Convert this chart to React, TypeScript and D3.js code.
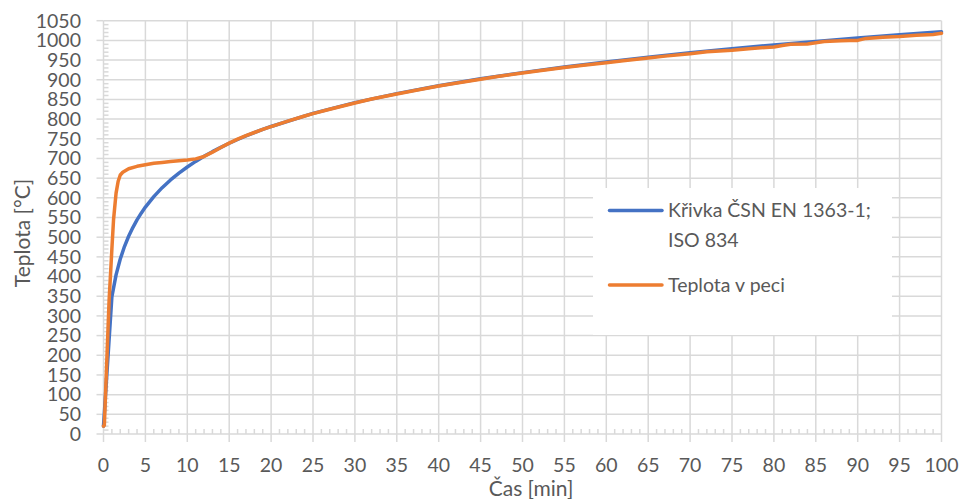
import React from "react";
import * as d3 from "d3";

const isoTime = [0, 1, 1.5, 2, 2.5, 3, 3.5, 4, 4.5, 5, 6, 7, 8, 9, 10, 11, 12, 13, 14, 15, 16, 17, 18, 19, 20, 25, 30, 35, 40, 45, 50, 55, 60, 65, 70, 75, 80, 85, 90, 95, 100];
const isoTemp = [20, 349.2, 404.3, 444.5, 476.2, 502.3, 524.5, 543.9, 561.0, 576.4, 603.1, 625.8, 645.4, 662.8, 678.4, 692.6, 705.4, 717.3, 728.3, 738.6, 748.2, 757.3, 765.7, 773.8, 781.3, 814.6, 841.8, 864.8, 884.7, 902.3, 918.1, 932.3, 945.3, 957.3, 968.4, 978.7, 988.4, 997.4, 1006.0, 1014.1, 1021.7];

const furnaceTime = [0, 0.1, 0.67, 1, 1.2, 1.5, 1.75, 2, 2.3, 3, 4, 5, 6, 7, 8, 9, 10, 11, 12, 13, 14, 15, 16, 17, 18, 19, 20, 22, 24, 25, 27, 30, 32, 35, 37, 40, 42, 45, 47, 50, 52, 55, 57, 60, 62, 65, 67, 70, 72, 75, 77, 79, 80, 81, 82, 84, 85, 86, 88, 89, 90, 91, 93, 95, 97, 99, 100];
const furnaceTemp = [20, 22, 340, 470, 545, 612, 642, 658, 665, 674, 680, 684, 688, 690, 692, 694, 696, 699, 705, 716, 728, 739, 749, 758, 766, 774, 781, 795, 808, 814, 825, 841, 851, 864, 872, 884, 891, 901, 908, 917, 923, 931, 936, 943, 948, 955, 960, 966, 971, 975, 979, 982, 983, 987, 990, 991, 994, 997, 999, 1000, 1000, 1005, 1008, 1010, 1013, 1015, 1018];

const seriesNames = ["Křivka ČSN EN 1363-1;", "ISO 834", "Teplota v peci"];
const xTicks = d3.range(0, 101, 5);
const yTicks = d3.range(0, 1051, 50);
const xMinor = d3.range(0, 101, 1);
const yMinor = d3.range(0, 1051, 10);

const W = 961;
const H = 499;
const FONT = "Lato, 'Open Sans', sans-serif";
const GRID = "#d9d9d9";
const TXT = "#595959";
const BLUE = "#4472C4";
const ORANGE = "#ED7D31";

export default function App() {
  const x = d3.scaleLinear().domain([0, 100]).range([103.5, 941.5]);
  const y = d3.scaleLinear().domain([0, 1050]).range([434, 20.7]);

  const line = d3
    .line<[number, number]>()
    .x((d) => x(d[0]))
    .y((d) => y(d[1]))
    .curve(d3.curveLinear);

  const isoData: [number, number][] = isoTime.map((t, i) => [t, isoTemp[i]]);
  const furnaceData: [number, number][] = furnaceTime.map((t, i) => [t, furnaceTemp[i]]);

  return (
    <svg width={W} height={H} style={{ position: "absolute", left: 0, top: 0, background: "#fff" }} fontFamily={FONT}>
      {/* grid */}
      {yTicks.map((v) => (
        <line key={"gy" + v} x1={x(0)} x2={x(100)} y1={y(v)} y2={y(v)} stroke={GRID} strokeWidth={1.5} />
      ))}
      {xTicks.map((v) => (
        <line key={"gx" + v} x1={x(v)} x2={x(v)} y1={y(0)} y2={y(1050)} stroke={GRID} strokeWidth={1.5} />
      ))}
      {/* minor ticks */}
      {xMinor.filter((v) => v % 5 !== 0).map((v) => (
        <line key={"mx" + v} x1={x(v)} x2={x(v)} y1={y(0)} y2={y(0) - 5} stroke={GRID} strokeWidth={1.5} />
      ))}
      {yMinor.filter((v) => v % 50 !== 0).map((v) => (
        <line key={"my" + v} x1={x(0)} x2={x(0) + 5} y1={y(v)} y2={y(v)} stroke={GRID} strokeWidth={1.5} />
      ))}
      {/* major ticks */}
      {xTicks.map((v) => (
        <line key={"tx" + v} x1={x(v)} x2={x(v)} y1={y(0)} y2={y(0) + 8} stroke={GRID} strokeWidth={1.5} />
      ))}
      {yTicks.map((v) => (
        <line key={"ty" + v} x1={x(0) - 7} x2={x(0)} y1={y(v)} y2={y(v)} stroke={GRID} strokeWidth={1.5} />
      ))}
      {/* tick labels */}
      {xTicks.map((v) => (
        <text key={"lx" + v} x={x(v)} y={471.5} textAnchor="middle" fontSize={19.5} fill={TXT}>
          {v}
        </text>
      ))}
      {yTicks.map((v) => (
        <text key={"ly" + v} x={81} y={y(v)} dy="0.35em" textAnchor="end" fontSize={19.5} fill={TXT}>
          {v}
        </text>
      ))}
      {/* axis titles */}
      <text x={531} y={496} textAnchor="middle" fontSize={21} fill={TXT}>
        Čas [min]
      </text>
      <text transform="translate(30,233) rotate(-90)" textAnchor="middle" fontSize={21} fill={TXT}>
        Teplota [°C]
      </text>
      {/* series */}
      <path d={line(isoData) || ""} fill="none" stroke={BLUE} strokeWidth={3.5} strokeLinejoin="round" strokeLinecap="round" />
      <path d={line(furnaceData) || ""} fill="none" stroke={ORANGE} strokeWidth={3.5} strokeLinejoin="round" strokeLinecap="round" />
      {/* legend */}
      <rect x={593} y={188} width={299} height={147} fill="#fff" />
      <line x1={609.5} x2={662} y1={210.5} y2={210.5} stroke={BLUE} strokeWidth={3.5} strokeLinecap="round" />
      <text x={668} y={216.7} fontSize={19.5} fill={TXT}>
        {seriesNames[0]}
      </text>
      <text x={668} y={246.7} fontSize={19.5} fill={TXT}>
        {seriesNames[1]}
      </text>
      <line x1={609.5} x2={662} y1={285} y2={285} stroke={ORANGE} strokeWidth={3.5} strokeLinecap="round" />
      <text x={668} y={291.5} fontSize={19.5} fill={TXT}>
        {seriesNames[2]}
      </text>
    </svg>
  );
}
